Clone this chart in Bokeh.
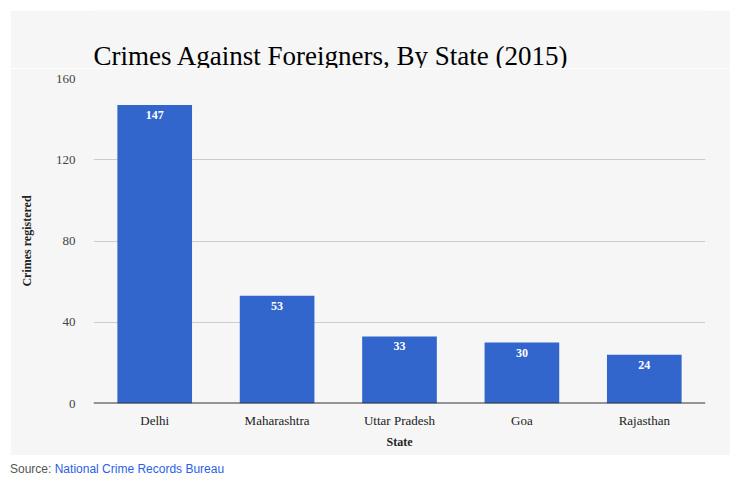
from bokeh.plotting import figure
from bokeh.models import ColumnDataSource, Span, Div
from bokeh.layouts import column
from bokeh.core.properties import value
from bokeh.embed import file_html
from bokeh.resources import INLINE

states = ["Delhi", "Maharashtra", "Uttar Pradesh", "Goa", "Rajasthan"]
crimes = [147, 53, 33, 30, 24]
y_ticks = [0, 40, 80, 120, 160]
title_text = "Crimes Against Foreigners, By State (2015)"

SERIF = "Liberation Serif"
BG = "#f6f6f6"

# ---- title strip (same gray panel) ----
t = figure(width=720, height=58, x_range=(0, 1), y_range=(0, 1),
           output_backend="svg", toolbar_location=None,
           x_axis_location=None, y_axis_location=None,
           min_border_left=83, min_border_right=25, min_border_top=0, min_border_bottom=0,
           background_fill_color=BG, border_fill_color=BG, outline_line_color=None,
           margin=(10, 0, 0, 10))
t.xgrid.grid_line_color = None
t.ygrid.grid_line_color = None
t.text(x=[0], y=[0.22], text=[title_text], text_align="left", text_baseline="alphabetic",
       text_color="#000000", text_font=value(SERIF), text_font_size="27px")

# ---- main chart ----
src = ColumnDataSource(dict(state=states, crimes=crimes, label=[str(v) for v in crimes]))

p = figure(x_range=states, y_range=(0, 160), width=720, height=387,
           output_backend="svg", toolbar_location=None,
           min_border_left=83, min_border_right=25, min_border_top=10, min_border_bottom=52,
           background_fill_color=BG, border_fill_color=BG, outline_line_color=None,
           margin=(0, 0, 0, 10))

p.vbar(x="state", top="crimes", width=0.61, source=src, color="#3366cc", line_color=None)
p.text(x="state", y="crimes", text="label", source=src, text_align="center",
       text_baseline="middle", y_offset=10, text_color="white",
       text_font=value(SERIF), text_font_size="12px", text_font_style="bold")

p.add_layout(Span(location=0, dimension="width", line_color="#333333", line_width=2))

p.xgrid.grid_line_color = None
p.ygrid.grid_line_color = "#cccccc"
p.ygrid.grid_line_width = 1

p.yaxis.ticker = y_ticks
p.yaxis.axis_line_color = None
p.yaxis.major_tick_line_color = None
p.yaxis.minor_tick_line_color = None
p.yaxis.major_label_text_font = SERIF
p.yaxis.major_label_text_font_size = "13px"
p.yaxis.major_label_text_color = "#444444"
p.yaxis.major_label_standoff = 12
p.yaxis.axis_label = "Crimes registered"
p.yaxis.axis_label_text_font = SERIF
p.yaxis.axis_label_text_font_size = "12px"
p.yaxis.axis_label_text_font_style = "bold"
p.yaxis.axis_label_text_color = "#222222"
p.yaxis.axis_label_standoff = 19

p.xaxis.axis_line_color = None
p.xaxis.major_tick_line_color = None
p.xaxis.minor_tick_line_color = None
p.xaxis.major_label_text_font = SERIF
p.xaxis.major_label_text_font_size = "13px"
p.xaxis.major_label_text_color = "#222222"
p.xaxis.major_label_standoff = 3
p.xaxis.axis_label = "State"
p.xaxis.axis_label_text_font = SERIF
p.xaxis.axis_label_text_font_size = "12px"
p.xaxis.axis_label_text_font_style = "bold"
p.xaxis.axis_label_text_color = "#222222"
p.xaxis.axis_label_standoff = 4

source_div = Div(text='<span style="color:#555555">Source: </span>'
                      '<span style="color:#2a5ee8">National Crime Records Bureau</span>',
                 width=400, height=20,
                 styles={"font-family": "Liberation Sans", "font-size": "12px"},
                 margin=(6, 0, 0, 10))

layout = column(t, p, source_div, spacing=0)

with open("out.html", "w") as f:
    f.write(file_html(layout, INLINE))
